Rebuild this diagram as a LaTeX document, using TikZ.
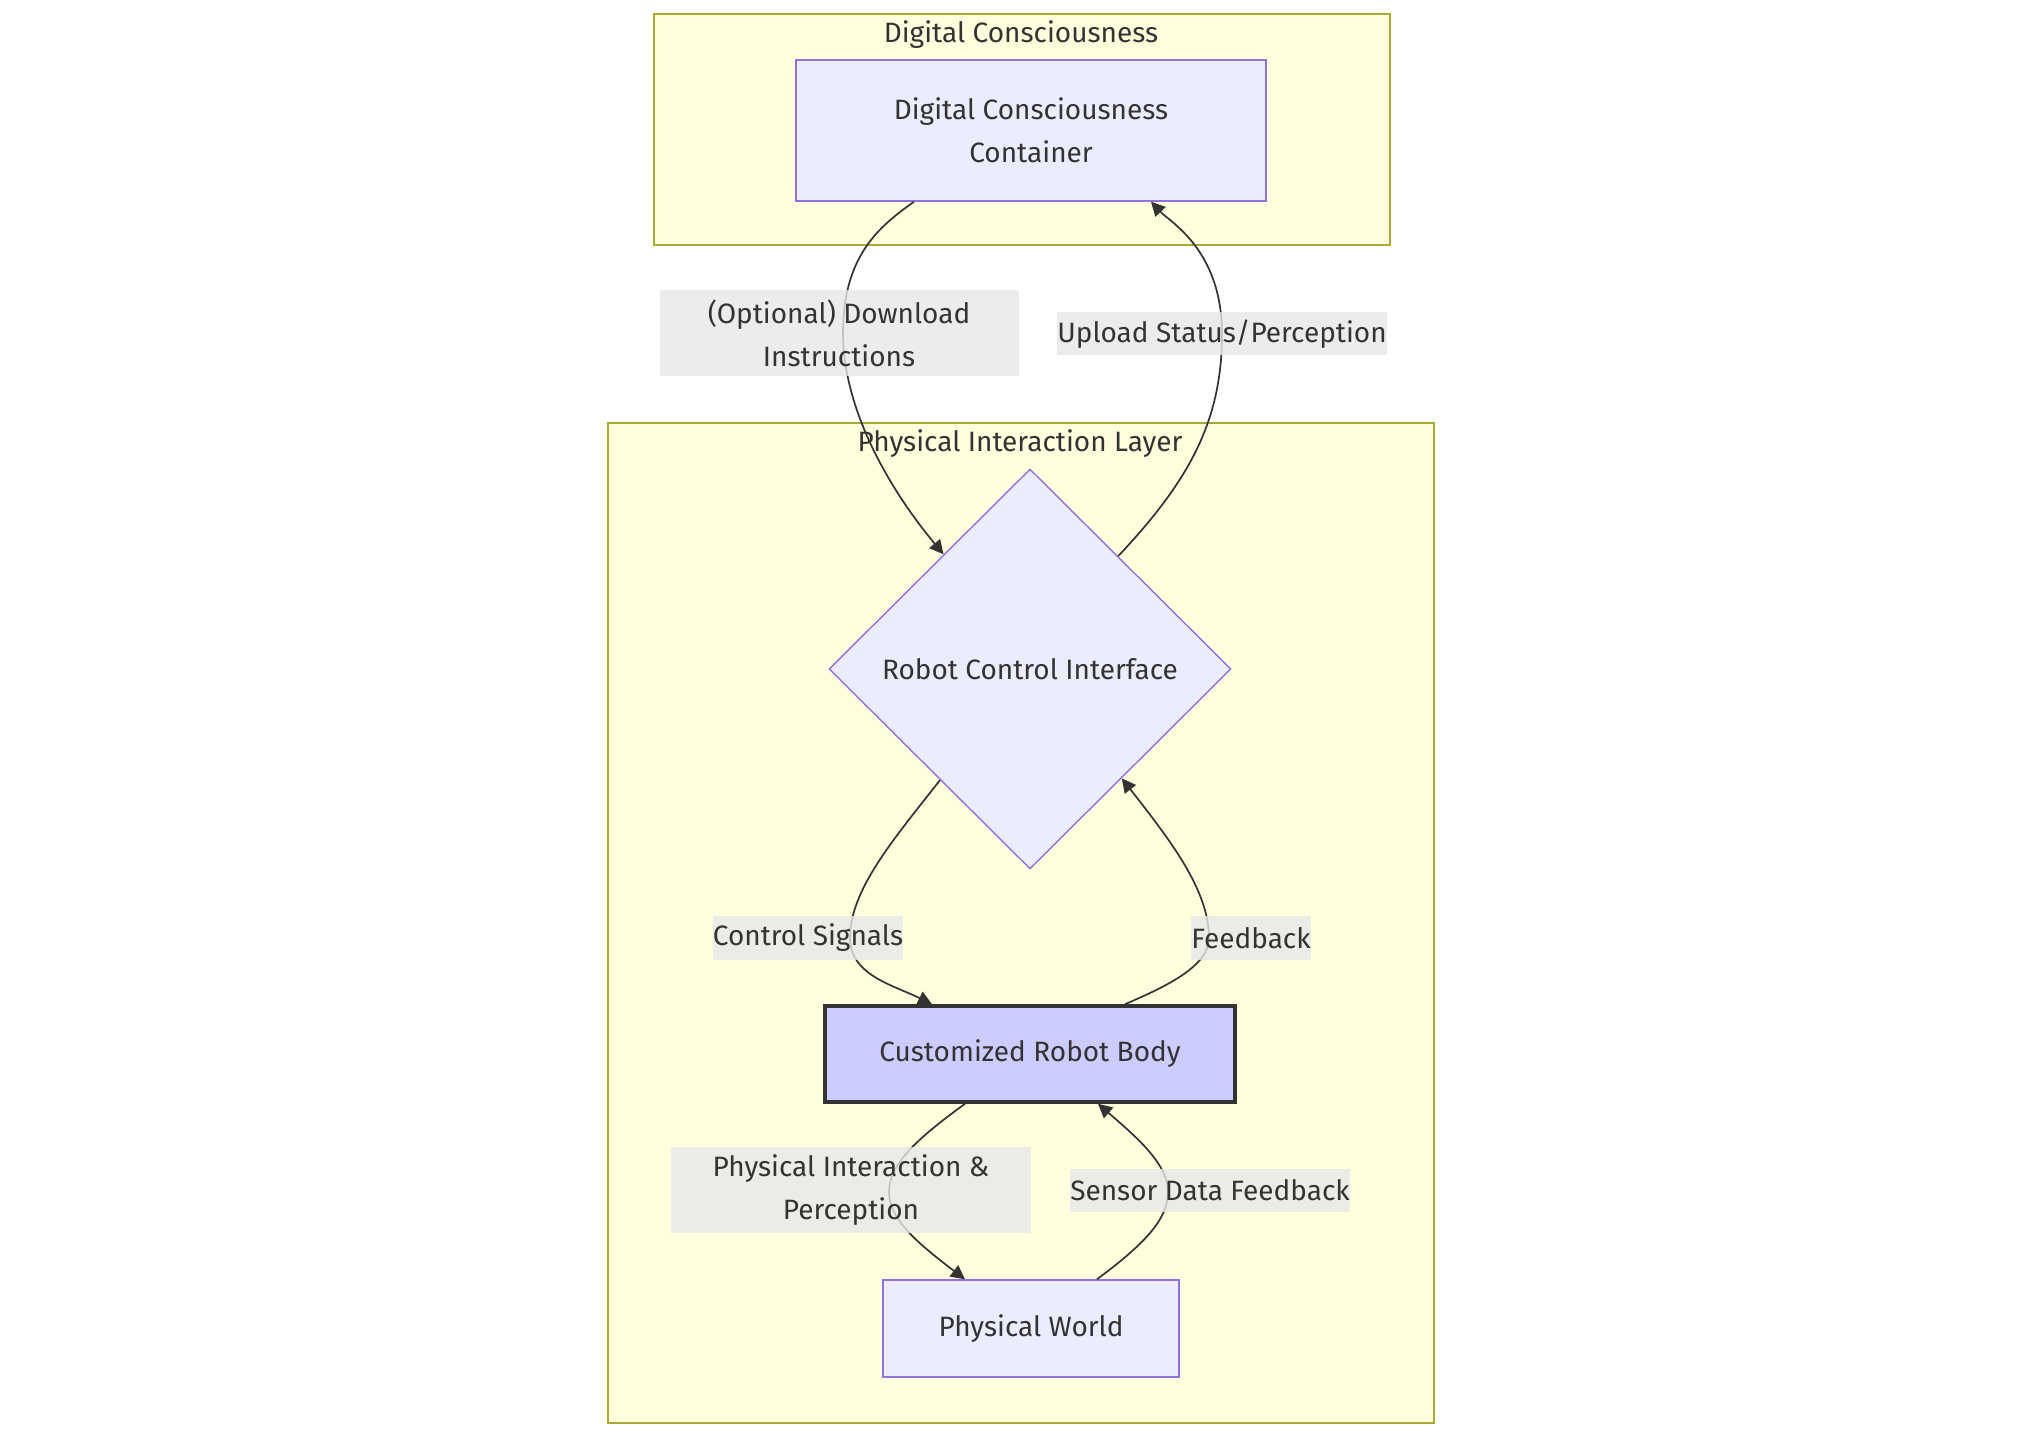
\documentclass[tikz,border=0pt]{standalone}
\usepackage{fontspec}
\setmainfont{Fira Sans}
\usetikzlibrary{shapes.geometric,arrows.meta,calc}
\definecolor{clfill}{HTML}{FFFFDE}
\definecolor{cldraw}{HTML}{AAAA33}
\definecolor{ndfill}{HTML}{ECECFF}
\definecolor{nddraw}{HTML}{9370DB}
\definecolor{bodyfill}{HTML}{CCCCFF}
\definecolor{ink}{HTML}{333333}
\definecolor{lblfill}{HTML}{E8E8E8}
\begin{document}
\begin{tikzpicture}[x=0.5pt,y=-0.5pt, font=\fontsize{14}{21.5}\selectfont, text=ink,
 cluster/.style={draw=cldraw,fill=clfill,line width=0.7pt,inner sep=0pt},
 box/.style={draw=nddraw,fill=ndfill,line width=0.7pt,inner sep=0pt,align=center},
 flow/.style={draw=ink,line width=0.85pt,-{Triangle[length=7pt,width=7pt]}},
 lbl/.style={fill=lblfill,fill opacity=0.8,text opacity=1,inner xsep=0pt,inner ysep=0pt,align=center},
 title/.style={inner sep=0pt}]
\useasboundingbox (0,0) rectangle (2042,1438);
\fill[white] (0,0) rectangle (2042,1438);
% clusters
\node[cluster, minimum width=368pt, minimum height=115.5pt] (dcbox) at (1022,129.5) {};
\node[cluster, minimum width=413pt, minimum height=500pt] (pilbox) at (1021,923) {};
\node[title] (dctitle) at (1021,35) {Digital Consciousness};
\node[title] (piltitle) at (1020,444) {Physical Interaction Layer};
% nodes
\node[box, minimum width=235pt, minimum height=70.5pt] (dcc) at (1031,130.5) {Digital Consciousness\\Container};
\node[box, shape=diamond, minimum width=201pt, minimum height=200pt] (rci) at (1030,669) {Robot Control Interface};
\node[box, draw=ink, fill=bodyfill, line width=1.8pt, minimum width=205pt, minimum height=48pt] (body) at (1030,1054) {Customized Robot Body};
\node[box, minimum width=148pt, minimum height=48.5pt] (world) at (1031,1328.5) {Physical World};
% label anchor points
\coordinate (m1) at (843,333);
\coordinate (m2) at (1222,334);
\coordinate (m3) at (850,938);
\coordinate (m4) at (1209,938);
\coordinate (m5) at (889,1192);
\coordinate (m6) at (1168,1192);
% edges
\draw[flow] ($(dcc.south)+(-117,0)$) .. controls (880,226) and (843,255) .. (m1) .. controls (843,410) and (890,490) .. (rci.127.6);
\draw[flow] (rci.52) .. controls (1190,480) and (1222,420) .. (m2) .. controls (1222,250) and (1170,222) .. ($(dcc.south)+(120,0)$);
\draw[flow] (rci.231) .. controls (893,840) and (850,890) .. (m3) .. controls (850,975) and (893,985) .. ($(body.north)+(-98,0)$);
\draw[flow] ($(body.north)+(95,0)$) .. controls (1170,985) and (1209,965) .. (m4) .. controls (1209,890) and (1170,840) .. (rci.-50);
\draw[flow] ($(body.south)+(-65,0)$) .. controls (915,1140) and (889,1165) .. (m5) .. controls (889,1220) and (920,1245) .. ($(world.north)+(-66,0)$);
\draw[flow] ($(world.north)+(66,0)$) .. controls (1143,1245) and (1168,1220) .. (m6) .. controls (1168,1165) and (1140,1140) .. ($(body.south)+(68,0)$);
% labels
\node[lbl, minimum width=179.5pt, minimum height=43pt] (l1) at (839,333) {(Optional) Download\\Instructions};
\node[lbl, minimum height=21.5pt] (l2) at (1222,334) {Upload Status/Perception};
\node[lbl, minimum height=21.5pt] (l3) at (808,938) {Control Signals};
\node[lbl, minimum height=21.5pt] (l4) at (1251,938) {Feedback};
\node[lbl, minimum width=180pt, minimum height=43pt] (l5) at (851,1190) {Physical Interaction \&\\Perception};
\node[lbl, minimum height=21.5pt] (l6) at (1210,1190) {Sensor Data Feedback};
\end{tikzpicture}
\end{document}
